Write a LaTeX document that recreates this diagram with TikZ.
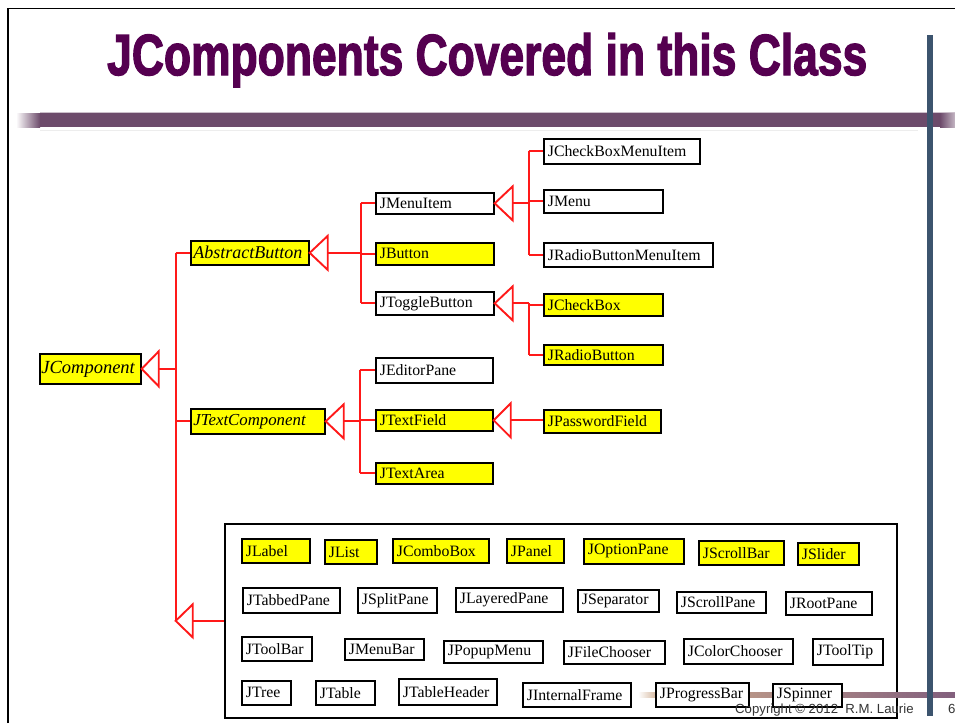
\documentclass[tikz,border=0pt]{standalone}
\usepackage{fontspec}
\setmainfont{Liberation Serif}
\newfontfamily\titlefont{Liberation Sans}[BoldFeatures={FakeBold=2.5}]
\newfontfamily\footfont{Liberation Sans}
\usetikzlibrary{shadows}

\definecolor{titlepurple}{RGB}{85,0,80}
\definecolor{bandpurple}{RGB}{109,75,107}
\definecolor{barblue}{RGB}{60,84,110}
\definecolor{linkred}{RGB}{255,25,25}
\definecolor{boxyellow}{RGB}{255,255,0}
\definecolor{foottan}{RGB}{205,170,140}
\definecolor{footmauve}{RGB}{130,95,125}

\tikzset{
  cls/.style={draw=black, line width=1.7pt, fill=white, anchor=north west,
    inner ysep=0pt, align=left, font=\fontsize{15.8}{18}\selectfont,
    drop shadow={shadow xshift=1.3pt, shadow yshift=-1.3pt, fill=black!25, opacity=1}},
  hl/.style={fill=boxyellow},
  abstractcls/.style={fill=boxyellow, font=\fontsize{#1}{20}\selectfont\itshape},
  gen/.style={draw=linkred, line width=1.9pt, line join=miter},
}

% \cbox[padding]{options}{name}{x1}{y1}{x2}{y2}{text}
\newcommand\cbox[8][4]{%
  \pgfmathsetmacro\cboxtw{#6-#4-2*#1}%
  \pgfmathsetmacro\cboxh{#7-#5}%
  \node[cls,#2,inner xsep=#1pt,text width=\cboxtw pt,minimum height=\cboxh pt] (#3) at (#4,#5) {#8};}

\begin{document}
\begin{tikzpicture}[x=1pt,y=-1pt]
\useasboundingbox (0,0) rectangle (955,723);
\fill[white] (0,0) rectangle (955,723);

% slide frame
\draw[line width=2.2pt] (8,723) -- (8,8.5);
\draw[line width=1.6pt] (7,8.5) -- (955,8.5);

% title
\node[anchor=base west, inner sep=0pt, text=titlepurple] (title) at (107,75)
  {\resizebox{760pt}{42pt}{\titlefont\bfseries JComponents Covered in this Class}};

% purple rule under the title
\fill[bandpurple] (40,113) rectangle (940,127);
\shade[left color=white, right color=bandpurple] (16,113) rectangle (40,127);
\shade[left color=bandpurple, right color=bandpurple!40] (940,113) rectangle (955,127);
\draw[bandpurple!35, line width=1pt] (40,112.5) -- (955,112.5);
\draw[black!7, line width=1pt] (40,130.5) -- (918,130.5);

% group box of the other components
\node[draw=black, line width=1.7pt, anchor=north west, minimum width=672pt,
  minimum height=194pt, inner sep=0pt] (grp) at (224,523) {};

% footer rule and side bar
\shade[left color=white, right color=foottan] (638,692) rectangle (660,697);
\shade[left color=foottan, right color=footmauve] (660,692) rectangle (955,697);
\fill[barblue] (927,35) rectangle (933,716);

% class tree
\cbox[1.5]{abstractcls=18.5}{jc}{39}{353}{140}{383}{JComponent}
\cbox[2.5]{abstractcls=18}{ab}{190}{240}{308}{264}{AbstractButton}
\cbox[2.5]{abstractcls=16.8}{tc}{190}{408}{324}{433}{JTextComponent}

\cbox{}{mi}{375}{192}{493}{213}{JMenuItem}
\cbox{hl}{bt}{375}{242}{493}{264}{JButton}
\cbox{}{tg}{375}{291}{493}{314}{JToggleButton}

\cbox{}{cbmi}{543}{138}{699}{163}{JCheckBoxMenuItem}
\cbox{}{mn}{543}{189}{662}{212}{JMenu}
\cbox{}{rbmi}{543}{242}{712}{266}{JRadioButtonMenuItem}
\cbox{hl}{cb}{543}{293}{662}{315}{JCheckBox}
\cbox{hl}{rb}{543}{344}{662}{364}{JRadioButton}

\cbox{}{ep}{375}{357}{492}{382}{JEditorPane}
\cbox{hl}{tf}{375}{409}{492}{430}{JTextField}
\cbox{hl}{ta}{375}{462}{492}{483}{JTextArea}
\cbox{hl}{pf}{543}{409}{660}{432}{JPasswordField}

% other components, row by row
\cbox{hl}{lbl}{241}{538}{309}{562}{JLabel}
\cbox{hl}{lst}{324}{539}{376}{563}{JList}
\cbox{hl}{cmb}{392}{538}{488}{562}{JComboBox}
\cbox{hl}{pnl}{506}{538}{563}{562}{JPanel}
\cbox{hl}{opt}{583}{538}{683}{563}{JOptionPane}
\cbox{hl}{sbar}{698}{540}{783}{564}{JScrollBar}
\cbox{hl}{sld}{797}{542}{858}{564}{JSlider}

\cbox{}{tab}{242}{587}{339}{612}{JTabbedPane}
\cbox{}{spl}{357}{587}{436}{612}{JSplitPane}
\cbox{}{lay}{455}{587}{562}{611}{JLayeredPane}
\cbox{}{sep}{577}{589}{658}{611}{JSeparator}
\cbox{}{spn}{676}{591}{765}{612}{JScrollPane}
\cbox{}{root}{785}{591}{871}{614}{JRootPane}

\cbox{}{tool}{241}{636}{311}{660}{JToolBar}
\cbox{}{mbar}{344}{638}{423}{659}{JMenuBar}
\cbox{}{pop}{443}{640}{542}{662}{JPopupMenu}
\cbox{}{fch}{563}{640}{664}{663}{JFileChooser}
\cbox{}{cch}{683}{638}{792}{663}{JColorChooser}
\cbox{}{tip}{812}{638}{882}{664}{JToolTip}

\cbox{}{tree}{241}{680}{290}{704}{JTree}
\cbox{}{tbl}{315}{680}{374}{704}{JTable}
\cbox{}{thd}{398}{678}{496}{704}{JTableHeader}
\cbox{}{ifr}{522}{682}{630}{706}{JInternalFrame}
\cbox{}{prog}{655}{682}{748}{706}{JProgressBar}
\cbox{}{spin}{772}{683}{841}{706}{JSpinner}

% inheritance: JComponent
\draw[gen] (jc.east) -- ++(17,-17.5) -- ++(0,35) -- cycle;
\draw[gen] ([xshift=17pt]jc.east) -- ([xshift=34pt]jc.east) coordinate (jcbus);
\coordinate (gtip) at (jcbus |- grp.west);
\draw[gen] (jcbus |- ab.west) -- (gtip);
\draw[gen] (jcbus |- ab.west) -- (ab.west);
\draw[gen] (jcbus |- tc.west) -- (tc.west);
\draw[gen] (gtip) -- ++(17,-16.5) -- ++(0,33) -- cycle;
\draw[gen] ([xshift=17pt]gtip) -- (grp.west);

% inheritance: AbstractButton
\draw[gen] (ab.east) -- ++(18,-17) -- ++(0,34) -- cycle;
\draw[gen] ([xshift=18pt]ab.east) -- ([xshift=51pt]ab.east) coordinate (abbus);
\draw[gen] (abbus |- mi.west) -- (abbus |- tg.west);
\draw[gen] (abbus |- mi.west) -- (mi.west);
\draw[gen] (abbus |- bt.west) -- (bt.west);
\draw[gen] (abbus |- tg.west) -- (tg.west);

% inheritance: JMenuItem
\draw[gen] (mi.east) -- ++(18,-17) -- ++(0,34) -- cycle;
\draw[gen] ([xshift=18pt]mi.east) -- ([xshift=34pt]mi.east) coordinate (mibus);
\draw[gen] (mibus |- cbmi.west) -- (mibus |- rbmi.west);
\draw[gen] (mibus |- cbmi.west) -- (cbmi.west);
\draw[gen] (mibus |- mn.west) -- (mn.west);
\draw[gen] (mibus |- rbmi.west) -- (rbmi.west);

% inheritance: JToggleButton
\draw[gen] (tg.east) -- ++(18,-17) -- ++(0,34) -- cycle;
\draw[gen] ([xshift=18pt]tg.east) -- ([xshift=34pt]tg.east) coordinate (tgbus);
\draw[gen] (tgbus) -- (tgbus |- rb.west);
\draw[gen] (tgbus |- cb.west) -- (cb.west);
\draw[gen] (tgbus |- rb.west) -- (rb.west);

% inheritance: JTextComponent
\draw[gen] (tc.east) -- ++(18,-17) -- ++(0,34) -- cycle;
\draw[gen] ([xshift=18pt]tc.east) -- ([xshift=34pt]tc.east) coordinate (tcbus);
\draw[gen] (tcbus |- ep.west) -- (tcbus |- ta.west);
\draw[gen] (tcbus |- ep.west) -- (ep.west);
\draw[gen] (tcbus |- tf.west) -- (tf.west);
\draw[gen] (tcbus |- ta.west) -- (ta.west);

% inheritance: JTextField
\draw[gen] (tf.east) -- ++(17,-17) -- ++(0,34) -- cycle;
\draw[gen] ([xshift=17pt]tf.east) -- (pf.west |- tf.east);

% footer
\node[anchor=base west, inner sep=0pt, text=black!80,
  font=\footfont\fontsize{13.2}{15}\selectfont] (copy) at (735,713)
  {Copyright © 2012\ \ R.M. Laurie};
\node[anchor=base west, inner sep=0pt, text=black!80,
  font=\footfont\fontsize{13.2}{15}\selectfont] (page) at (948,713) {6};
\end{tikzpicture}
\end{document}
